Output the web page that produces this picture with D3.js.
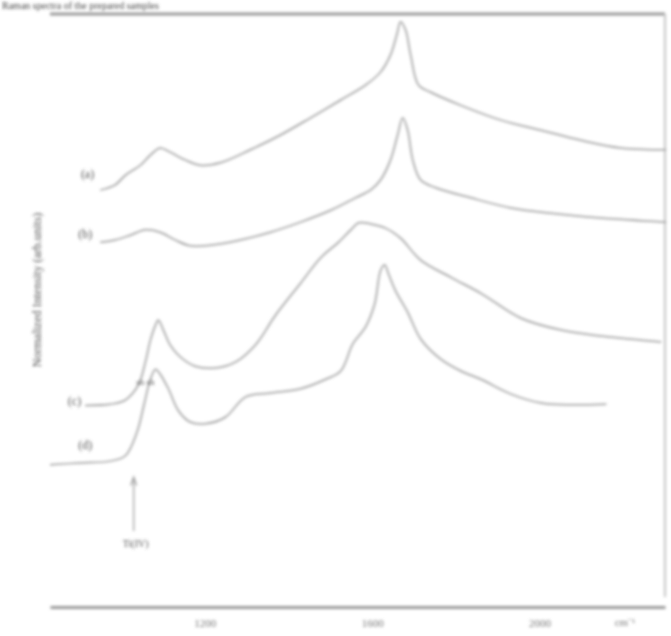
<!DOCTYPE html>
<meta charset="utf-8">
<script src="https://d3js.org/d3.v7.min.js"></script>
<style>
  body { margin: 0; background: #fff; }
  text { font-family: "Liberation Serif", serif; fill: #777; }
</style>
<div id="chart"></div>
<script>
// x in cm-1, y in arbitrary units (stacked spectra)
const xTicks = [1200, 1600, 2000];
const xUnit = "cm\u207B\u00B9";
const curveLabels = ["(a)", "(b)", "(c)", "(d)"];

const xA = [950, 986, 1010, 1046, 1070, 1093, 1117, 1153, 1189, 1237, 1309, 1381, 1453, 1525, 1584, 1620, 1644, 1659, 1668, 1680, 1692, 1711, 1740, 1812, 1908, 2004, 2099, 2195, 2303];
const yA = [70.3, 71.2, 72.8, 74.5, 76.2, 77.4, 76.7, 75.4, 74.5, 74.9, 77.1, 79.6, 82.5, 85.5, 88.0, 90.2, 93.1, 96.5, 98.7, 97.3, 93.1, 88.0, 86.8, 84.6, 82.1, 80.4, 78.7, 77.4, 77.1];

const xB = [950, 986, 1022, 1058, 1093, 1129, 1165, 1213, 1285, 1357, 1429, 1501, 1560, 1596, 1620, 1644, 1661, 1673, 1685, 1697, 1716, 1752, 1836, 1932, 2028, 2147, 2303];
const yB = [61.5, 61.9, 62.7, 63.6, 63.2, 61.9, 60.9, 61.0, 61.9, 63.2, 64.9, 66.9, 69.0, 70.3, 72.0, 75.4, 79.6, 82.5, 80.4, 75.4, 72.0, 70.7, 69.0, 67.3, 66.4, 65.6, 64.9];

const xC = [914, 974, 1010, 1041, 1058, 1070, 1082, 1089, 1101, 1117, 1141, 1177, 1225, 1273, 1321, 1369, 1429, 1477, 1518, 1549, 1568, 1596, 1632, 1668, 1716, 1788, 1860, 1956, 2052, 2147, 2243, 2291];
const yC = [34.0, 34.2, 34.9, 37.4, 41.3, 45.0, 47.5, 48.4, 46.7, 44.2, 42.2, 40.6, 40.3, 41.3, 44.2, 49.2, 54.6, 58.9, 61.4, 63.6, 64.8, 64.6, 63.9, 62.2, 58.5, 55.6, 52.9, 48.7, 46.7, 45.7, 45.0, 44.7];

const xD = [830, 902, 974, 1010, 1038, 1055, 1070, 1082, 1093, 1113, 1137, 1165, 1201, 1249, 1297, 1357, 1429, 1489, 1525, 1554, 1584, 1606, 1620, 1630, 1639, 1656, 1685, 1716, 1764, 1812, 1860, 1932, 2004, 2076, 2160];
const yD = [24.0, 24.3, 24.6, 25.5, 29.5, 34.2, 38.4, 40.1, 39.3, 36.8, 33.1, 31.2, 30.9, 32.0, 35.4, 36.1, 36.8, 38.4, 39.8, 44.4, 47.2, 51.1, 56.7, 57.7, 56.2, 53.3, 49.7, 45.2, 41.8, 39.8, 38.4, 35.9, 34.4, 34.1, 34.2];

const curves = [[xA, yA], [xB, yB], [xC, yC], [xD, yD]];

const W = 671, H = 636;
const margin = {left: 50, right: 665, top: 14, bottom: 607};

const x = d3.scaleLinear().domain([830, 2300]).range([margin.left, margin.right]);
const y = d3.scaleLinear().domain([0, 100]).range([margin.bottom, margin.top]);

const svg = d3.select("#chart").append("svg")
  .attr("width", W).attr("height", H);

// the reference is a soft, low-resolution scan
const defs = svg.append("defs");
defs.append("filter").attr("id", "soft")
  .attr("x", "-5%").attr("y", "-5%").attr("width", "110%").attr("height", "110%")
  .append("feGaussianBlur").attr("stdDeviation", 1.4);

const g = svg.append("g").attr("filter", "url(#soft)");

// caption at the very top
g.append("text").attr("x", 2).attr("y", 9)
  .attr("font-size", 10).style("fill", "#444")
  .text("Raman spectra of the prepared samples");

// frame
g.append("line").attr("x1", margin.left).attr("x2", margin.right)
  .attr("y1", margin.top).attr("y2", margin.top)
  .attr("stroke", "#999").attr("stroke-width", 3);
g.append("line").attr("x1", margin.right).attr("x2", margin.right)
  .attr("y1", margin.top).attr("y2", margin.bottom - 10)
  .attr("stroke", "#c4c4c4").attr("stroke-width", 2);

// bottom axis
const xAxis = g.append("g")
  .attr("transform", `translate(0,${margin.bottom})`)
  .call(d3.axisBottom(x).tickValues(xTicks).tickSize(0).tickPadding(12).tickFormat(d3.format("d")));
xAxis.select(".domain").attr("stroke", "#999").attr("stroke-width", 3);
xAxis.selectAll("text").attr("font-size", 11).style("fill", "#777")
  .attr("font-family", "Liberation Serif, serif");

g.append("text").attr("x", 625).attr("y", 626)
  .attr("text-anchor", "middle").attr("font-size", 11).text(xUnit);

// y axis title
g.append("text")
  .attr("transform", "translate(41,290) rotate(-90)")
  .attr("text-anchor", "middle").attr("font-size", 12)
  .style("fill", "#555")
  .text("Normalized Intensity (arb.units)");

// spectra
const line = d3.line()
  .x(d => x(d[0]))
  .y(d => y(d[1]))
  .curve(d3.curveCatmullRom.alpha(0.5));

curves.forEach(c => {
  const pts = c[0].map((v, i) => [v, c[1][i]]);
  g.append("path").datum(pts)
    .attr("fill", "none")
    .attr("stroke", "#999")
    .attr("stroke-width", 1.5)
    .attr("d", line);
});

// curve labels
const labelPos = [[xA[0], yA[0]], [xB[0], yB[0]], [xC[0], yC[0]], [xD[2], yD[2]]];
const labelDx = [-6, -8, -4, -18];
const labelDy = [-12, -4, 0, -12];
curveLabels.forEach((t, i) => {
  g.append("text")
    .attr("x", x(labelPos[i][0]) + labelDx[i])
    .attr("y", y(labelPos[i][1]) + labelDy[i])
    .attr("text-anchor", "end")
    .attr("font-size", 12)
    .style("fill", "#555")
    .text(t);
});

// shoulder mark on (d)
g.append("text").attr("x", x(1058)).attr("y", y(38.4) + 6)
  .attr("text-anchor", "middle").attr("font-size", 9).style("fill", "#555")
  .text("sh sh");

// arrow pointing to the (d) onset
const ax = x(1030);
g.append("line").attr("x1", ax).attr("x2", ax)
  .attr("y1", y(12.8)).attr("y2", y(21.5))
  .attr("stroke", "#999").attr("stroke-width", 1.2);
g.append("path")
  .attr("d", `M${ax - 3},${y(20.5)} L${ax},${y(21.9)} L${ax + 3},${y(20.5)}`)
  .attr("fill", "none").attr("stroke", "#999").attr("stroke-width", 1.2);
g.append("text").attr("x", ax + 2).attr("y", y(10.2))
  .attr("text-anchor", "middle").attr("font-size", 10).style("fill", "#555")
  .text("Ti(IV)");
</script>
